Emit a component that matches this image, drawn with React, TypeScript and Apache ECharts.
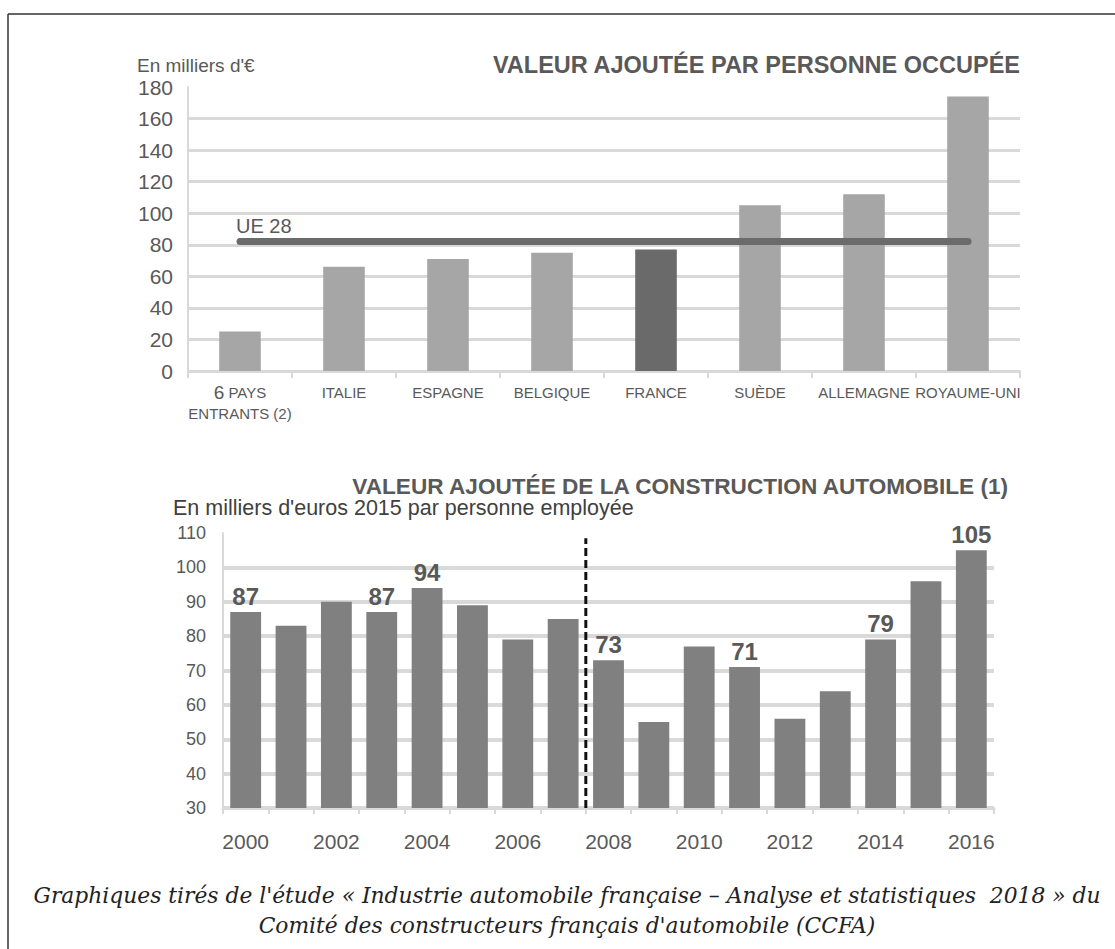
import React, { useEffect, useRef } from "react";
import * as echarts from "echarts";

// ---- Top chart data ----
const topCategories = ["6 PAYS\nENTRANTS (2)", "ITALIE", "ESPAGNE", "BELGIQUE", "FRANCE", "SUÈDE", "ALLEMAGNE", "ROYAUME-UNI"];
const topValues = [25, 66, 71, 75, 77, 105, 112, 174];
const highlightedCategory = "FRANCE";
const ue28Label = "UE 28";
const ue28Value = 82;
const topMin = 0;
const topMax = 180;
const topInterval = 20;

// ---- Bottom chart data ----
const years = ["2000", "2001", "2002", "2003", "2004", "2005", "2006", "2007", "2008", "2009", "2010", "2011", "2012", "2013", "2014", "2015", "2016"];
const autoValues = [87, 83, 90, 87, 94, 89, 79, 85, 73, 55, 77, 71, 56, 64, 79, 96, 105];
const labelledYears = ["2000", "2003", "2004", "2008", "2011", "2014", "2016"];
const breakPosition = 7.5; // between 2007 and 2008
const breakTop = 108.5;
const bottomMin = 30;
const bottomMax = 110;
const bottomInterval = 10;

// ---- Texts ----
const topTitle = "VALEUR AJOUTÉE PAR PERSONNE OCCUPÉE";
const topUnit = "En milliers d'€";
const bottomTitle = "VALEUR AJOUTÉE DE LA CONSTRUCTION AUTOMOBILE (1)";
const bottomUnit = "En milliers d'euros 2015 par personne employée";
const caption1 = "Graphiques tirés de l'étude « Industrie automobile française – Analyse et statistiques  2018 » du";
const caption2 = "Comité des constructeurs français d'automobile (CCFA)";

const FONT = "'Liberation Sans', Arial, sans-serif";
const TXT = "#595959";
const GRID = "#d9d9d9";

export default function App() {
  const ref = useRef<HTMLDivElement>(null);
  useEffect(() => {
    if (!ref.current) return;
    const chart = echarts.init(ref.current, undefined, { renderer: "svg" });
    const option: any = {
      animation: false,
      backgroundColor: "#ffffff",
      textStyle: { fontFamily: FONT },
      grid: [
        { left: 188, top: 87, width: 832, height: 284, outerBoundsMode: "none" },
        { left: 223, top: 533, width: 771, height: 275, outerBoundsMode: "none" },
      ],
      xAxis: [
        {
          type: "category",
          gridIndex: 0,
          data: topCategories,
          axisLine: { show: true, onZero: false, lineStyle: { color: GRID, width: 2 } },
          axisTick: { show: true, length: 7, lineStyle: { color: GRID, width: 2 } },
          axisLabel: {
            interval: 0,
            color: TXT,
            fontFamily: FONT,
            fontSize: 15,
            lineHeight: 21,
            margin: 11,
            formatter: (v: string) => v.replace(/^(\d+) /, "{big|$1} "),
            rich: { big: { fontSize: 19, color: TXT, fontFamily: FONT, lineHeight: 21 } },
          },
          splitLine: { show: false },
        },
        {
          type: "category",
          gridIndex: 1,
          data: years,
          axisLine: { show: true, onZero: false, lineStyle: { color: GRID, width: 3 } },
          axisTick: { show: true, interval: 0, length: 6, lineStyle: { color: GRID, width: 2 } },
          axisLabel: { interval: 1, color: TXT, fontFamily: FONT, fontSize: 21, margin: 23 },
          splitLine: { show: false },
        },
        {
          type: "value",
          gridIndex: 1,
          min: -0.5,
          max: years.length - 0.5,
          show: false,
          axisLine: { show: false, onZero: false },
          splitLine: { show: false },
        },
      ],
      yAxis: [
        {
          type: "value",
          gridIndex: 0,
          min: topMin,
          max: topMax,
          interval: topInterval,
          axisLine: { show: true, onZero: false, lineStyle: { color: GRID, width: 2 } },
          axisTick: { show: false },
          axisLabel: { color: TXT, fontFamily: FONT, fontSize: 21, margin: 15 },
          splitLine: { show: true, showMaxLine: false, lineStyle: { color: GRID, width: 3 } },
        },
        {
          type: "value",
          gridIndex: 1,
          min: bottomMin,
          max: bottomMax,
          interval: bottomInterval,
          axisLine: { show: true, onZero: false, lineStyle: { color: GRID, width: 2 } },
          axisTick: { show: false },
          axisLabel: { color: TXT, fontFamily: FONT, fontSize: 18, margin: 17 },
          splitLine: { show: true, showMaxLine: false, lineStyle: { color: GRID, width: 4 } },
        },
      ],
      series: [
        {
          type: "bar",
          xAxisIndex: 0,
          yAxisIndex: 0,
          barWidth: "40%",
          data: topValues.map((v, i) => ({
            value: v,
            itemStyle: { color: topCategories[i] === highlightedCategory ? "#6a6a6a" : "#a6a6a6" },
          })),
          markLine: {
            silent: true,
            symbol: "none",
            z: 5,
            lineStyle: { color: "#6b6b6b", width: 7, type: "solid", cap: "round" },
            label: {
              show: true,
              position: "insideStartTop",
              formatter: ue28Label,
              color: TXT,
              fontFamily: FONT,
              fontSize: 20,
              distance: [-4, 6],
            },
            emphasis: { disabled: true },
            data: [[{ coord: [0, ue28Value] }, { coord: [topCategories.length - 1, ue28Value] }]],
          },
        },
        {
          type: "bar",
          xAxisIndex: 1,
          yAxisIndex: 1,
          barWidth: "68%",
          itemStyle: { color: "#808080" },
          label: { show: false },
          data: autoValues.map((v, i) => ({
            value: v,
            label: {
              show: labelledYears.includes(years[i]),
              position: "top",
              distance: 4,
              color: TXT,
              fontFamily: FONT,
              fontWeight: "bold",
              fontSize: 24,
            },
          })),
        },
        {
          type: "line",
          xAxisIndex: 2,
          yAxisIndex: 1,
          symbol: "none",
          z: 5,
          lineStyle: { color: "#111111", width: 3, type: [8, 4] },
          data: [
            [breakPosition, bottomMin],
            [breakPosition, breakTop],
          ],
        },
      ],
      graphic: [
        { type: "line", shape: { x1: 8, y1: 14, x2: 1115, y2: 14 }, style: { stroke: "#333", lineWidth: 1.5 } },
        { type: "line", shape: { x1: 8, y1: 14, x2: 8, y2: 949 }, style: { stroke: "#333", lineWidth: 1.5 } },
        {
          type: "text",
          x: 137,
          y: 65,
          style: { text: topUnit, fill: TXT, font: `19px ${FONT}`, textVerticalAlign: "middle" },
        },
        {
          type: "text",
          x: 1020,
          y: 65,
          style: { text: topTitle, fill: TXT, font: `bold 23.5px ${FONT}`, textAlign: "right", textVerticalAlign: "middle" },
        },
        {
          type: "text",
          x: 1008,
          y: 486,
          style: { text: bottomTitle, fill: TXT, font: `bold 22.6px ${FONT}`, textAlign: "right", textVerticalAlign: "middle" },
        },
        {
          type: "text",
          x: 173,
          y: 508,
          style: { text: bottomUnit, fill: "#404040", font: `21.5px ${FONT}`, textVerticalAlign: "middle" },
        },
        {
          type: "text",
          x: 567,
          y: 895,
          style: { text: caption1, fill: "#222", font: `italic 21.8px 'DejaVu Serif', serif`, textAlign: "center", textVerticalAlign: "middle" },
        },
        {
          type: "text",
          x: 567,
          y: 925,
          style: { text: caption2, fill: "#222", font: `italic 21.8px 'DejaVu Serif', serif`, textAlign: "center", textVerticalAlign: "middle" },
        },
      ],
    };
    chart.setOption(option);
    return () => chart.dispose();
  }, []);
  return (
    <div
      ref={ref}
      style={{ position: "absolute", left: 0, top: 0, width: 1115, height: 949, background: "#fff" }}
    />
  );
}
